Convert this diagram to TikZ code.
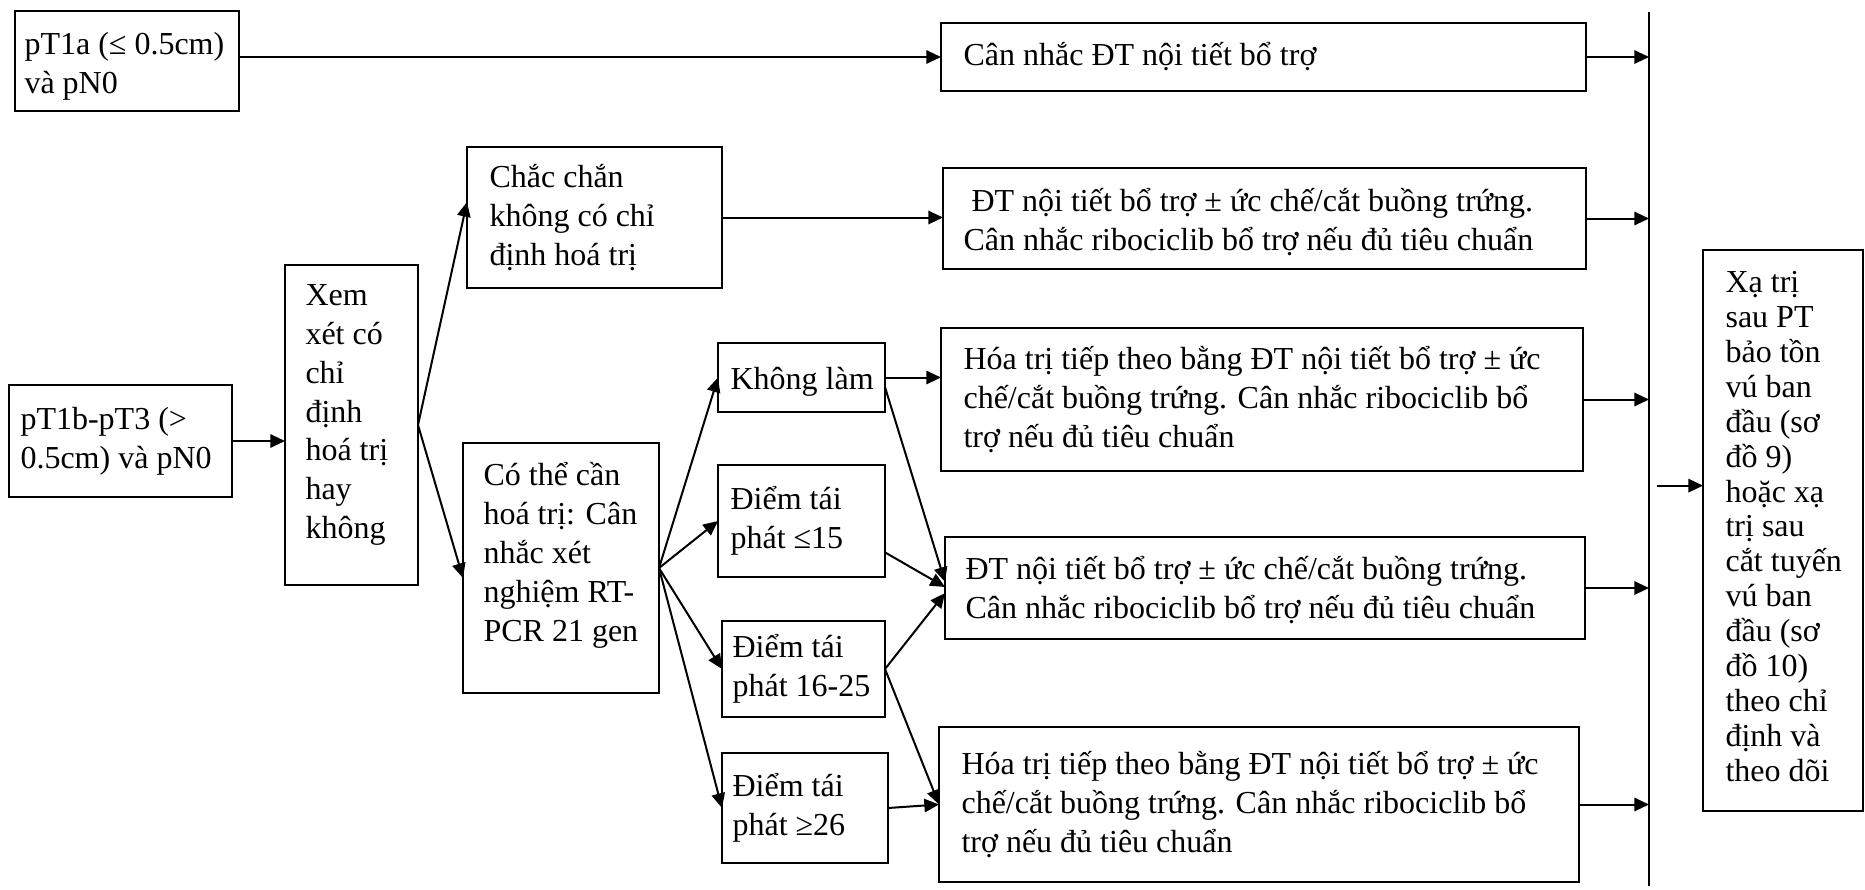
\documentclass[tikz,border=0pt]{standalone}
\usepackage{fontspec}
\setmainfont{Liberation Serif}
\usetikzlibrary{arrows.meta,calc}

\tikzset{
  flow/.style={draw, line width=0.75pt, inner sep=0pt, outer sep=0pt},
  flowtext/.style={inner sep=0pt, align=left, font=\fontsize{12}{14.6}\selectfont},
  narrowtext/.style={font=\fontsize{12}{13.1}\selectfont},
  arr/.style={line width=0.75pt, -{Triangle[length=5.5pt,width=5pt]}},
  collector/.style={line width=1pt},
}

% \flowbox[text style]{name}{x1}{y1}{x2}{y2}{left padding}{vertical text shift}{text}
% draws a framed box spanning the given corners, with its text set flush left
\newcommand\flowbox[9][]{%
  \pgfmathsetmacro\bxw{(#5-#3)*0.375}%
  \pgfmathsetmacro\bxh{(#6-#4)*0.375}%
  \pgfmathsetmacro\bxp{#7*0.375}%
  \pgfmathsetmacro\bxs{-#8*0.375}%
  \node[flow, minimum width=\bxw pt, minimum height=\bxh pt] (#2) at ({(#3+#5)/2},{(#4+#6)/2}) {};%
  \node[flowtext, #1, anchor=west] (#2-t) at ([xshift=\bxp pt, yshift=\bxs pt]#2.west) {#9};%
}

\begin{document}
\begin{tikzpicture}[x=0.375pt,y=-0.375pt]
\useasboundingbox (0,0) rectangle (1865,889);

% left column
\flowbox{pta}{15}{11}{239}{111}{9}{5}{pT1a (≤ 0.5cm)\\và pN0}
\flowbox{ptb}{9}{385}{232}{497}{11}{0}{pT1b-pT3 (>\\0.5cm) và pN0}
\flowbox{xem}{285}{265}{418}{585}{20}{-10}{Xem\\xét có\\chỉ\\định\\hoá trị\\hay\\không}

% decision on chemotherapy
\flowbox{chac}{467}{147}{722}{288}{22}{0}{Chắc chắn\\không có chỉ\\định hoá trị}
\flowbox{cot}{463}{443}{659}{693}{20}{-13}{Có thể cần\\hoá trị: Cân\\nhắc xét\\nghiệm RT-\\PCR 21 gen}

% recurrence score groups
\flowbox{khong}{718}{343}{885}{412}{12}{4}{Không làm}
\flowbox{d15}{718}{465}{885}{577}{12}{0}{Điểm tái\\phát ≤15}
\flowbox{d1625}{722}{621}{885}{717}{10}{0}{Điểm tái\\phát 16-25}
\flowbox{d26}{722}{753}{888}{863}{10}{0}{Điểm tái\\phát ≥26}

% treatment boxes
\flowbox{can}{941}{23}{1586}{91}{22}{0}{Cân nhắc ĐT nội tiết bổ trợ}
\flowbox{dta}{943}{168}{1586}{269}{20}{4}{\hspace*{0.25em}ĐT nội tiết bổ trợ ± ức chế/cắt buồng trứng.\\Cân nhắc ribociclib bổ trợ nếu đủ tiêu chuẩn}
\flowbox{hoaa}{941}{328}{1583}{471}{22}{0}{Hóa trị tiếp theo bằng ĐT nội tiết bổ trợ ± ức\\chế/cắt buồng trứng. Cân nhắc ribociclib bổ\\trợ nếu đủ tiêu chuẩn}
\flowbox{dtb}{945}{537}{1585}{639}{20}{2}{ĐT nội tiết bổ trợ ± ức chế/cắt buồng trứng.\\Cân nhắc ribociclib bổ trợ nếu đủ tiêu chuẩn}
\flowbox{hoab}{939}{727}{1579}{882}{22}{0}{Hóa trị tiếp theo bằng ĐT nội tiết bổ trợ ± ức\\chế/cắt buồng trứng. Cân nhắc ribociclib bổ\\trợ nếu đủ tiêu chuẩn}

% radiotherapy and follow-up
\flowbox[narrowtext]{rad}{1703}{250}{1863}{811}{22}{-4}{Xạ trị\\sau PT\\bảo tồn\\vú ban\\đầu (sơ\\đồ 9)\\hoặc xạ\\trị sau\\cắt tuyến\\vú ban\\đầu (sơ\\đồ 10)\\theo chỉ\\định và\\theo dõi}

% vertical collector line
\coordinate (bartop) at (1649,12);
\coordinate (barbot) at (1649,886);
\draw[collector] (bartop) -- (barbot);

% connectors
\draw[arr] (can.west -| pta.east) -- (can.west);
\draw[arr] (ptb.east) -- (ptb.east -| xem.west);
\draw[arr] (xem.east) -- ($(chac.north west)!0.39!(chac.south west)$);
\draw[arr] (xem.east) -- ($(cot.north west)!0.54!(cot.south west)$);
\draw[arr] (chac.east) -- (chac.east -| dta.west);

\draw[arr] (cot.east) -- (khong.west);
\draw[arr] (cot.east) -- (d15.west);
\draw[arr] (cot.east) -- (d1625.west);
\draw[arr] (cot.east) -- (d26.west);

\draw[arr] (khong.east) -- (khong.east -| hoaa.west);
\draw[arr] ($(khong.north east)!0.64!(khong.south east)$) -- ($(dtb.north west)!0.44!(dtb.south west)$);
\draw[arr] ($(d15.north east)!0.78!(d15.south east)$) -- ($(dtb.north west)!0.49!(dtb.south west)$);
\draw[arr] (d1625.east) -- ($(dtb.north west)!0.55!(dtb.south west)$);
\draw[arr] (d1625.east) -- (hoab.west);
\draw[arr] (d26.east) -- (hoab.west);

\draw[arr] (can.east) -- (can.east -| bartop);
\draw[arr] (dta.east) -- (dta.east -| bartop);
\draw[arr] (hoaa.east) -- (hoaa.east -| bartop);
\draw[arr] (dtb.east) -- (dtb.east -| bartop);
\draw[arr] (hoab.east) -- (hoab.east -| bartop);
\coordinate (radin) at ($(rad.north west)!0.42!(rad.south west)$);
\draw[arr] ($(radin -| bartop)+(8,0)$) -- (radin);
\end{tikzpicture}
\end{document}
